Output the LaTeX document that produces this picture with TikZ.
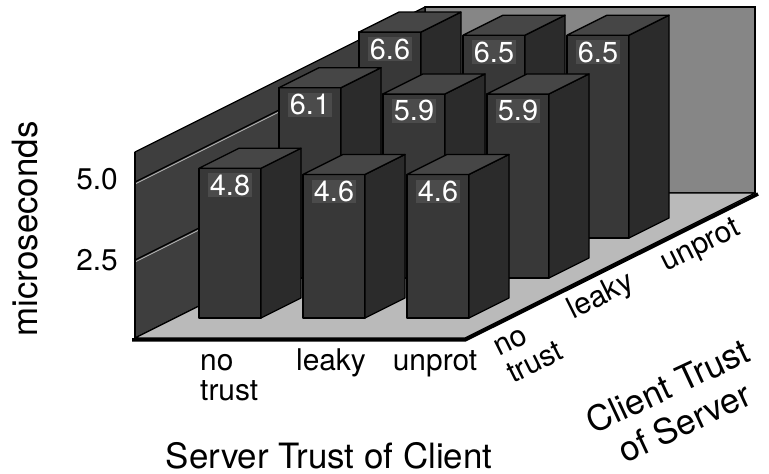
\documentclass[tikz,border=0pt]{standalone}
\usepackage{fontspec}
\setmainfont{TeX Gyre Heros}

\definecolor{wallleft}{HTML}{3E3E3E}
\definecolor{wallback}{HTML}{868686}
\definecolor{floorc}{HTML}{BABABA}
\definecolor{barfront}{HTML}{383838}
\definecolor{barside}{HTML}{2B2B2B}
\definecolor{bartop}{HTML}{464646}
\definecolor{tagbg}{HTML}{4B4B4B}

\tikzset{
  outline/.style={draw=black, line width=1.3bp, line join=round},
  gridln/.style={black, line width=1.3bp},
  gridhl/.style={gray!55, line width=0.8bp},
  valtag/.style={fill=tagbg, text=white, inner sep=1.5bp,
    font=\fontsize{29}{31}\selectfont},
  ticklab/.style={inner sep=0pt, font=\fontsize{30}{32}\selectfont},
  catlab/.style={inner sep=0pt, font=\fontsize{30}{32}\selectfont},
  axtitle/.style={inner sep=0pt, font=\fontsize{35}{40}\selectfont},
}

% one 3-D bar: #1 left x of front face, #2 base y, #3 value, #4 node name
\newcommand{\chartbar}[4]{%
  \pgfmathsetmacro\bh{31.2*#3}%
  \filldraw[outline, fill=barfront] (#1,#2) rectangle ++(62,\bh);
  \filldraw[outline, fill=barside] (#1+62,#2) -- ++(40,20) -- ++(0,\bh)
    -- ++(-40,-20) -- cycle;
  \filldraw[outline, fill=bartop] (#1,#2+\bh) -- ++(62,0) -- ++(40,20)
    -- ++(-62,0) -- cycle;
  \node[valtag] (#4) at (#1+31,#2+\bh-17) {#3};
}

\begin{document}
\begin{tikzpicture}[x=1bp, y=1bp]
\useasboundingbox (0,0) rectangle (769,474);
\fill[white] (0,0) rectangle (769,474);

% corners of the chart box
\coordinate (fl) at (135,136);
\coordinate (fr) at (465,136);
\coordinate (br) at (755,281);
\coordinate (bl) at (425,281);
\coordinate (tf) at (135,322);
\coordinate (tb) at (425,467);
\coordinate (tr) at (755,467);

% back wall
\filldraw[outline, fill=wallback] (bl) -- (br) -- (tr) -- (tb) -- cycle;
\draw[black, line width=2.5bp] (tb) -- (tr) -- (br);

% left wall
\filldraw[outline, fill=wallleft] (fl) -- (tf) -- (tb) -- (bl) -- cycle;

% grid lines on the left wall (2.5 and 5.0)
\coordinate (g25a) at (135,214);
\coordinate (g25b) at (425,359);
\coordinate (g50a) at (135,292);
\coordinate (g50b) at (425,437);
\draw[gridhl] ([yshift=-2bp]g25a) -- ([yshift=-2bp]g25b);
\draw[gridhl] ([yshift=-2bp]g50a) -- ([yshift=-2bp]g50b);
\draw[gridln] (g25a) -- (g25b);
\draw[gridln] (g50a) -- (g50b);

% floor
\filldraw[outline, fill=floorc] (fl) -- (fr) -- (br) -- (bl) -- cycle;
\draw[black, line width=3.5bp, line join=miter]
  ([xshift=-3bp,yshift=-2bp]fl) -- ([yshift=-2bp]fr) -- ([xshift=3bp,yshift=-1bp]br);
\draw[black, line width=2.2bp] (fl) -- (tf);

% bars, back row first
\chartbar{359}{236}{6.6}{v20}
\chartbar{463}{236}{6.5}{v21}
\chartbar{567}{236}{6.5}{v22}
\chartbar{279}{196}{6.1}{v10}
\chartbar{383}{196}{5.9}{v11}
\chartbar{487}{196}{5.9}{v12}
\chartbar{199}{156}{4.8}{v00}
\chartbar{303}{156}{4.6}{v01}
\chartbar{407}{156}{4.6}{v02}

% value axis
\node[ticklab, anchor=east] (t50) at (118,295) {5.0};
\node[ticklab, anchor=east] (t25) at (118,214) {2.5};
\node[axtitle, rotate=90] (ylab) at (25,245) {microseconds};

% server trust categories
\node[catlab, anchor=base west] (sa1) at (200,103) {no};
\node[catlab, anchor=base west] (sa2) at (200,73) {trust};
\node[catlab, anchor=base] (sb) at (331,103) {leaky};
\node[catlab, anchor=base] (sc) at (435,103) {unprot};
\node[axtitle, anchor=base] (xlab) at (329,5) {Server Trust of Client};

% client trust categories
\node[catlab, anchor=base west, rotate=26.57] (ca1) at (499,117) {no};
\node[catlab, anchor=base west, rotate=26.57] (ca2) at (513,90) {trust};
\node[catlab, rotate=26.57] (cb) at (601,177) {leaky};
\node[catlab, rotate=26.57] (cc) at (701,227) {unprot};
\node[axtitle, rotate=25, align=center] (zlab) at (676,70)
  {Client Trust\\of Server};
\end{tikzpicture}
\end{document}
